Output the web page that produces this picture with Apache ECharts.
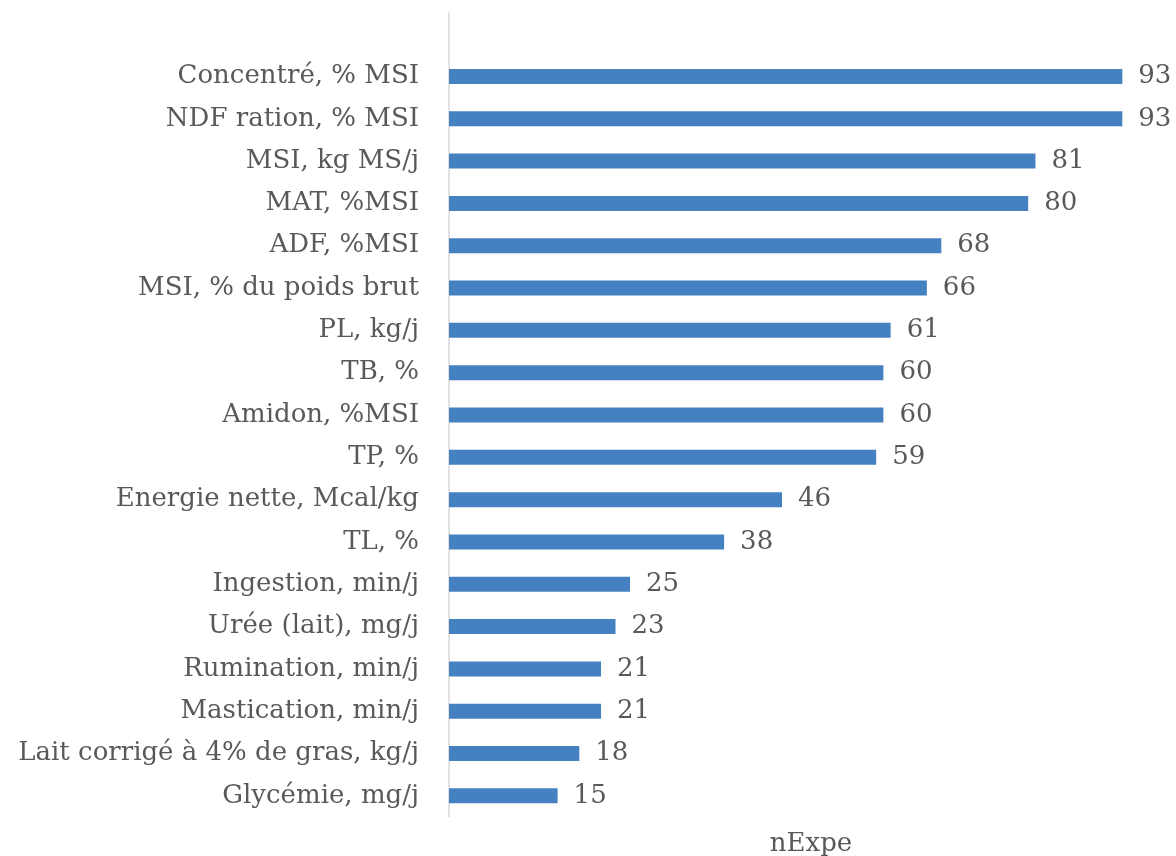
<!DOCTYPE html>
<html>
<head>
<meta charset="utf-8">
<script src="https://cdn.jsdelivr.net/npm/echarts@6/dist/echarts.min.js"></script>
<style>
  html, body { margin: 0; padding: 0; background: #fff; }
  #chart { width: 1176px; height: 856px; }
</style>
</head>
<body>
<div id="chart"></div>
<script>
// top to bottom; the first slot is an empty category, as in the source
const categories = [
    '',
    'Concentré, % MSI',
    'NDF ration, % MSI',
    'MSI, kg MS/j',
    'MAT, %MSI',
    'ADF, %MSI',
    'MSI, % du poids brut',
    'PL, kg/j',
    'TB, %',
    'Amidon, %MSI',
    'TP, %',
    'Energie nette, Mcal/kg',
    'TL, %',
    'Ingestion, min/j',
    'Urée (lait), mg/j',
    'Rumination, min/j',
    'Mastication, min/j',
    'Lait corrigé à 4% de gras, kg/j',
    'Glycémie, mg/j'
]
const nExpe = [null, 93, 93, 81, 80, 68, 66, 61, 60, 60, 59, 46, 38, 25, 23, 21, 21, 18, 15]

const fontFamily = '"DejaVu Serif", serif'
const textColor = '#595959'

const chart = echarts.init(document.getElementById('chart'))

chart.setOption({
    animation: false,
    backgroundColor: '#fff',
    grid: {
        left: 449,
        right: 3,
        top: 13,
        bottom: 39,
        outerBoundsMode: 'none',
        containLabel: false,
    },
    xAxis: {
        type: 'value',
        min: 0,
        max: 100,
        name: 'nExpe',
        nameLocation: 'middle',
        nameGap: 14,
        nameTextStyle: { color: textColor, fontSize: 26, fontFamily },
        axisLine: { show: false },
        axisTick: { show: false },
        axisLabel: { show: false },
        splitLine: { show: false },
    },
    yAxis: {
        type: 'category',
        inverse: true,
        data: categories,
        axisLine: { show: true, lineStyle: { color: '#d9d9d9', width: 1.5 } },
        axisTick: { show: false },
        axisLabel: {
            color: textColor,
            fontSize: 26,
            fontFamily,
            margin: 30,
        },
    },
    series: [{
        type: 'bar',
        data: nExpe,
        barWidth: 15,
        itemStyle: { color: '#4581c0' },
        label: {
            show: true,
            position: 'right',
            distance: 16,
            color: textColor,
            fontSize: 26,
            fontFamily,
        },
    }],
})
</script>
</body>
</html>
